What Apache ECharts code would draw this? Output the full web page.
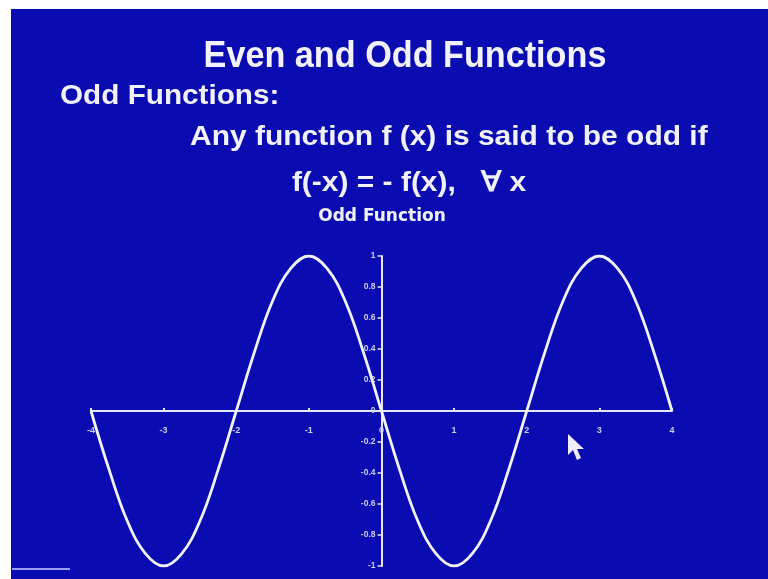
<!DOCTYPE html>
<html>
<head>
<meta charset="utf-8">
<script src="https://cdn.jsdelivr.net/npm/echarts@6/dist/echarts.min.js"></script>
<style>
  html, body { margin: 0; padding: 0; background: #ffffff; }
  #slide { position: absolute; left: 11px; top: 9px; width: 757px; height: 570px; background: #0b0bb2; }
</style>
</head>
<body>
<div id="slide"></div>
<script>
// Slide text
const slideTitle = 'Even and Odd Functions';
const sectionHeading = 'Odd Functions:';
const definitionLine = 'Any function f (x) is said to be odd if';
const formulaLine = 'f(-x) = - f(x),   \u2200 x';
const chartTitle = 'Odd Function';

// Sampled curve: x positions and f(x) values
const xValues = [-4, -3.75, -3.5, -3.25, -3, -2.75, -2.5, -2.25, -2, -1.75, -1.5, -1.25, -1, -0.75, -0.5, -0.25,
                 0, 0.25, 0.5, 0.75, 1, 1.25, 1.5, 1.75, 2, 2.25, 2.5, 2.75, 3, 3.25, 3.5, 3.75, 4];
const yValues = [0, -0.38, -0.71, -0.92, -1, -0.92, -0.71, -0.38, 0, 0.38, 0.71, 0.92, 1, 0.92, 0.71, 0.38,
                 0, -0.38, -0.71, -0.92, -1, -0.92, -0.71, -0.38, 0, 0.38, 0.71, 0.92, 1, 0.92, 0.71, 0.38, 0];

// Axis ticks
const xTicks = [-4, -3, -2, -1, 0, 1, 2, 3, 4];
const yTicks = [-1, -0.8, -0.6, -0.4, -0.2, 0, 0.2, 0.4, 0.6, 0.8, 1];

const ink = '#f2f2ff';
const axisInk = '#e6e6ff';
const tickLabelInk = '#cdcdf4';

const W = 757, H = 570;
const grid = { left: 80, right: 96, top: 247, bottom: 13 };
const plotW = W - grid.left - grid.right;
const plotH = H - grid.top - grid.bottom;
const xMin = xTicks[0], xMax = xTicks[xTicks.length - 1];
const yMin = yTicks[0], yMax = yTicks[yTicks.length - 1];
// Axes cross at the origin: shift each axis from the grid edge to zero
const xAxisShift = -plotH * (0 - yMin) / (yMax - yMin);
const yAxisShift = -plotW * (0 - xMin) / (xMax - xMin);

const chart = echarts.init(document.getElementById('slide'), null, { renderer: 'canvas' });

const points = xValues.map((x, i) => [x, yValues[i]]);

function slideText(text, x, y, font, align, scaleX) {
  return {
    type: 'text', x: x, y: y, scaleX: scaleX, z: 10,
    style: { text: text, fill: ink, font: font, align: align, verticalAlign: 'middle' }
  };
}

chart.setOption({
  backgroundColor: 'transparent',
  animation: false,
  grid: grid,
  xAxis: {
    type: 'value',
    min: xMin,
    max: xMax,
    interval: 1,
    offset: xAxisShift,
    axisLine: { onZero: false, lineStyle: { color: axisInk, width: 2 } },
    axisTick: { show: true, inside: true, length: 3, lineStyle: { color: axisInk, width: 2 } },
    axisLabel: { color: tickLabelInk, fontSize: 9, fontWeight: 'bold', margin: 15, fontFamily: 'Liberation Sans' },
    splitLine: { show: false }
  },
  yAxis: {
    type: 'value',
    min: yMin,
    max: yMax,
    interval: 0.2,
    offset: yAxisShift,
    axisLine: { show: true, onZero: false, lineStyle: { color: axisInk, width: 2 } },
    axisTick: { show: true, length: 4, lineStyle: { color: axisInk, width: 1.5 } },
    axisLabel: {
      color: tickLabelInk, fontSize: 8.5, fontWeight: 'bold', margin: 6, fontFamily: 'Liberation Sans',
      formatter: v => String(Math.round(v * 10) / 10)
    },
    splitLine: { show: false }
  },
  series: [{
    type: 'line',
    data: points,
    smooth: 0.4,
    showSymbol: false,
    lineStyle: { color: ink, width: 2.8 },
    z: 5
  }],
  graphic: [
    slideText(slideTitle, 394, 48, 'bold 36px "Liberation Sans"', 'center', 0.95),
    slideText(sectionHeading, 49, 87.5, 'bold 27px "Liberation Sans"', 'left', 1.1),
    slideText(definitionLine, 179, 128, 'bold 28px "Liberation Sans"', 'left', 1.07),
    slideText(formulaLine, 398, 174, 'bold 28px "Liberation Sans"', 'center', 1.07),
    slideText(chartTitle, 371, 207.5, 'bold 17px "DejaVu Sans"', 'center', 1),
    // pointer arrow
    { type: 'polygon', z: 10,
      shape: { points: [[557, 425], [557, 446], [562, 441], [566, 451], [570, 449], [566, 440], [573, 440]] },
      style: { fill: '#eeeeff' } },
    // footer mark
    { type: 'polyline', z: 10,
      shape: { points: [[1, 560], [59, 560]] },
      style: { stroke: '#9a9aff', lineWidth: 2 } }
  ]
});
</script>
</body>
</html>
